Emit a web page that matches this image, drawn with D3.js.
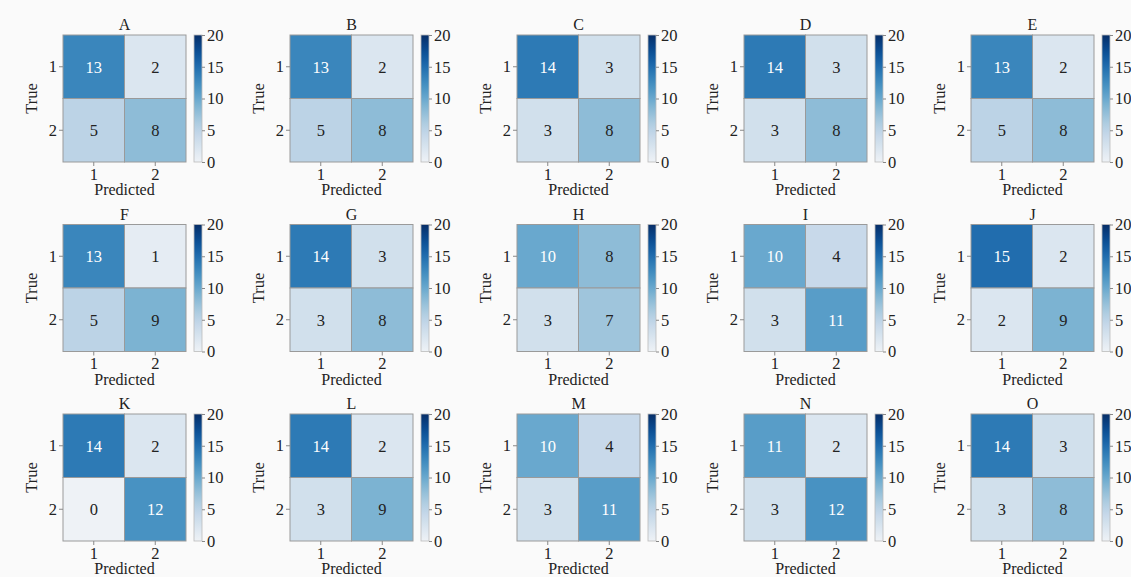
<!DOCTYPE html>
<html>
<head>
<meta charset="utf-8">
<script src="https://cdn.jsdelivr.net/npm/d3@7"></script>
<style>
  body { margin: 0; background: #fafafa; }
  svg text { font-family: "Liberation Serif", "DejaVu Serif", serif; }
</style>
</head>
<body>
<div id="chart"></div>
<script>
// panel titles and confusion matrices (rows = true, cols = predicted)
const titles = ['A','B','C','D','E','F','G','H','I','J','K','L','M','N','O'];
const matrices = [
  [[13,2],[5,8]],
  [[13,2],[5,8]],
  [[14,3],[3,8]],
  [[14,3],[3,8]],
  [[13,2],[5,8]],
  [[13,1],[5,9]],
  [[14,3],[3,8]],
  [[10,8],[3,7]],
  [[10,4],[3,11]],
  [[15,2],[2,9]],
  [[14,2],[0,12]],
  [[14,2],[3,9]],
  [[10,4],[3,11]],
  [[11,2],[3,12]],
  [[14,3],[3,8]]
];
const classLabels = ['1','2'];
const colorTicks = [0,5,10,15,20];

const FONT = '"Liberation Serif", "DejaVu Serif", serif';
const width = 1131, height = 577;
const svg = d3.select('#chart').append('svg').attr('width', width).attr('height', height);
svg.append('rect').attr('width', width).attr('height', height).attr('fill', '#fafafa');

const cellW = 123, cellH = 127;
// Blues, slightly muted like the reference
const blues = t => d3.color(d3.interpolateBlues(t)).darker(0.1).formatHex();
const color = d3.scaleSequential(blues).domain([0, 20]);

// gradient for colorbars
const defs = svg.append('defs');
const grad = defs.append('linearGradient').attr('id', 'cbar')
  .attr('x1', 0).attr('x2', 0).attr('y1', 1).attr('y2', 0);
d3.range(0, 1.0001, 0.05).forEach(t => {
  grad.append('stop').attr('offset', t).attr('stop-color', blues(t));
});

function styleAxis(a) {
  a.attr('font-family', FONT);
  a.select('.domain').remove();
  a.selectAll('line').attr('stroke', '#888');
  a.selectAll('text').attr('font-size', 16.5).attr('fill', '#222').attr('font-family', FONT);
}

titles.forEach((t, i) => {
  const col = i % 5, row = Math.floor(i / 5);
  const x0 = 63 + col * 227;
  const y0 = 35 + row * 189.5;
  const g = svg.append('g').attr('transform', `translate(${x0},${y0})`).attr('font-family', FONT);
  const m = matrices[i];

  const x = d3.scaleBand().domain(classLabels).range([0, cellW]);
  const y = d3.scaleBand().domain(classLabels).range([0, cellH]);

  const cells = [];
  m.forEach((r, ri) => r.forEach((v, ci) => cells.push({ t: classLabels[ri], p: classLabels[ci], v })));

  g.selectAll('rect.cell').data(cells).enter().append('rect')
    .attr('class', 'cell')
    .attr('x', d => x(d.p)).attr('y', d => y(d.t))
    .attr('width', x.bandwidth()).attr('height', y.bandwidth())
    .attr('fill', d => color(d.v))
    .attr('stroke', '#9a9a9a').attr('stroke-width', 1);

  g.selectAll('text.ann').data(cells).enter().append('text')
    .attr('x', d => x(d.p) + x.bandwidth() / 2)
    .attr('y', d => y(d.t) + y.bandwidth() / 2)
    .attr('dy', '0.35em')
    .attr('text-anchor', 'middle')
    .attr('font-size', 16.5)
    .attr('fill', d => d.v >= 10 ? '#ffffff' : '#222')
    .text(d => d.v);

  // axes
  const xa = g.append('g').attr('transform', `translate(0,${cellH})`)
    .call(d3.axisBottom(x).tickSize(4).tickPadding(2));
  const ya = g.append('g').call(d3.axisLeft(y).tickSize(4).tickPadding(2));
  styleAxis(xa);
  styleAxis(ya);

  g.append('text').attr('x', cellW / 2).attr('y', -5)
    .attr('text-anchor', 'middle').attr('font-size', 16).attr('fill', '#222').text(t);
  g.append('text').attr('x', cellW / 2).attr('y', cellH + 33)
    .attr('text-anchor', 'middle').attr('font-size', 16).attr('fill', '#222').text('Predicted');
  g.append('text').attr('transform', `translate(-26,${cellH / 2}) rotate(-90)`)
    .attr('text-anchor', 'middle').attr('font-size', 16.5).attr('fill', '#222').text('True');

  // colorbar
  const cb = g.append('g').attr('transform', `translate(${cellW + 8},0)`);
  cb.append('rect').attr('width', 8).attr('height', cellH)
    .attr('fill', 'url(#cbar)').attr('stroke', '#bbb').attr('stroke-width', 0.8);
  const cy = d3.scaleLinear().domain([0, 20]).range([cellH, 0]);
  const ca = cb.append('g').attr('transform', 'translate(8,0)')
    .call(d3.axisRight(cy).tickValues(colorTicks).tickSize(3).tickPadding(2));
  styleAxis(ca);
});
</script>
</body>
</html>
